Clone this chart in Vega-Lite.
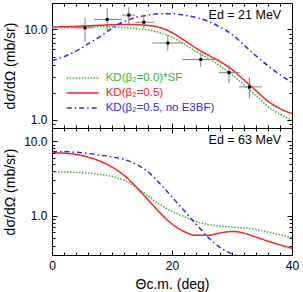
{
  "$schema": "https://vega.github.io/schema/vega-lite/v6.json",
  "padding": {"left": 2, "top": 2, "right": 5, "bottom": 0},
  "bounds": "flush",
  "datasets": {
    "curves": [
      {"E":21,"m":"KD(β₂=0.0)*SF","t":0,"v":10.45},{"E":21,"m":"KD(β₂=0.0)*SF","t":2,"v":10.5},{"E":21,"m":"KD(β₂=0.0)*SF","t":4,"v":10.55},{"E":21,"m":"KD(β₂=0.0)*SF","t":6,"v":10.65},{"E":21,"m":"KD(β₂=0.0)*SF","t":8,"v":10.7},{"E":21,"m":"KD(β₂=0.0)*SF","t":10,"v":10.65},{"E":21,"m":"KD(β₂=0.0)*SF","t":12,"v":10.5},{"E":21,"m":"KD(β₂=0.0)*SF","t":14,"v":10.25},{"E":21,"m":"KD(β₂=0.0)*SF","t":16,"v":9.85},{"E":21,"m":"KD(β₂=0.0)*SF","t":18,"v":9.2},{"E":21,"m":"KD(β₂=0.0)*SF","t":20,"v":8.2},{"E":21,"m":"KD(β₂=0.0)*SF","t":22,"v":6.9},{"E":21,"m":"KD(β₂=0.0)*SF","t":24,"v":5.7},{"E":21,"m":"KD(β₂=0.0)*SF","t":26,"v":4.8},{"E":21,"m":"KD(β₂=0.0)*SF","t":28,"v":3.95},{"E":21,"m":"KD(β₂=0.0)*SF","t":30,"v":3.15},{"E":21,"m":"KD(β₂=0.0)*SF","t":32,"v":2.45},{"E":21,"m":"KD(β₂=0.0)*SF","t":34,"v":1.85},{"E":21,"m":"KD(β₂=0.0)*SF","t":36,"v":1.4},{"E":21,"m":"KD(β₂=0.0)*SF","t":38,"v":1.15},{"E":21,"m":"KD(β₂=0.0)*SF","t":40,"v":0.99},
      {"E":21,"m":"KD(β₂=0.5)","t":0,"v":10.6},{"E":21,"m":"KD(β₂=0.5)","t":2,"v":10.7},{"E":21,"m":"KD(β₂=0.5)","t":4,"v":10.8},{"E":21,"m":"KD(β₂=0.5)","t":6,"v":10.95},{"E":21,"m":"KD(β₂=0.5)","t":8,"v":11.1},{"E":21,"m":"KD(β₂=0.5)","t":10,"v":11.25},{"E":21,"m":"KD(β₂=0.5)","t":12,"v":11.35},{"E":21,"m":"KD(β₂=0.5)","t":14,"v":11.3},{"E":21,"m":"KD(β₂=0.5)","t":16,"v":11.05},{"E":21,"m":"KD(β₂=0.5)","t":18,"v":10.5},{"E":21,"m":"KD(β₂=0.5)","t":20,"v":9.2},{"E":21,"m":"KD(β₂=0.5)","t":22,"v":7.6},{"E":21,"m":"KD(β₂=0.5)","t":24,"v":6.2},{"E":21,"m":"KD(β₂=0.5)","t":26,"v":5.2},{"E":21,"m":"KD(β₂=0.5)","t":28,"v":4.4},{"E":21,"m":"KD(β₂=0.5)","t":30,"v":3.6},{"E":21,"m":"KD(β₂=0.5)","t":32,"v":2.75},{"E":21,"m":"KD(β₂=0.5)","t":34,"v":2.1},{"E":21,"m":"KD(β₂=0.5)","t":36,"v":1.6},{"E":21,"m":"KD(β₂=0.5)","t":38,"v":1.33},{"E":21,"m":"KD(β₂=0.5)","t":40,"v":1.17},
      {"E":21,"m":"KD(β₂=0.5, no E3BF)","t":0,"v":4.5},{"E":21,"m":"KD(β₂=0.5, no E3BF)","t":2,"v":5.0},{"E":21,"m":"KD(β₂=0.5, no E3BF)","t":4,"v":5.75},{"E":21,"m":"KD(β₂=0.5, no E3BF)","t":6,"v":6.9},{"E":21,"m":"KD(β₂=0.5, no E3BF)","t":8,"v":8.3},{"E":21,"m":"KD(β₂=0.5, no E3BF)","t":10,"v":10.3},{"E":21,"m":"KD(β₂=0.5, no E3BF)","t":12,"v":12.2},{"E":21,"m":"KD(β₂=0.5, no E3BF)","t":14,"v":13.6},{"E":21,"m":"KD(β₂=0.5, no E3BF)","t":16,"v":14.4},{"E":21,"m":"KD(β₂=0.5, no E3BF)","t":18,"v":14.9},{"E":21,"m":"KD(β₂=0.5, no E3BF)","t":20,"v":14.9},{"E":21,"m":"KD(β₂=0.5, no E3BF)","t":22,"v":14.4},{"E":21,"m":"KD(β₂=0.5, no E3BF)","t":24,"v":13.6},{"E":21,"m":"KD(β₂=0.5, no E3BF)","t":26,"v":12.3},{"E":21,"m":"KD(β₂=0.5, no E3BF)","t":28,"v":10.6},{"E":21,"m":"KD(β₂=0.5, no E3BF)","t":30,"v":8.8},{"E":21,"m":"KD(β₂=0.5, no E3BF)","t":32,"v":6.7},{"E":21,"m":"KD(β₂=0.5, no E3BF)","t":34,"v":5.1},{"E":21,"m":"KD(β₂=0.5, no E3BF)","t":36,"v":3.95},{"E":21,"m":"KD(β₂=0.5, no E3BF)","t":38,"v":3.15},{"E":21,"m":"KD(β₂=0.5, no E3BF)","t":40,"v":2.58},
      {"E":63,"m":"KD(β₂=0.0)*SF","t":0,"v":3.88},{"E":63,"m":"KD(β₂=0.0)*SF","t":2,"v":3.86},{"E":63,"m":"KD(β₂=0.0)*SF","t":4,"v":3.82},{"E":63,"m":"KD(β₂=0.0)*SF","t":6,"v":3.73},{"E":63,"m":"KD(β₂=0.0)*SF","t":8,"v":3.6},{"E":63,"m":"KD(β₂=0.0)*SF","t":10,"v":3.38},{"E":63,"m":"KD(β₂=0.0)*SF","t":12,"v":3.0},{"E":63,"m":"KD(β₂=0.0)*SF","t":14,"v":2.45},{"E":63,"m":"KD(β₂=0.0)*SF","t":16,"v":1.85},{"E":63,"m":"KD(β₂=0.0)*SF","t":18,"v":1.42},{"E":63,"m":"KD(β₂=0.0)*SF","t":20,"v":1.15},{"E":63,"m":"KD(β₂=0.0)*SF","t":22,"v":0.98},{"E":63,"m":"KD(β₂=0.0)*SF","t":24,"v":0.84},{"E":63,"m":"KD(β₂=0.0)*SF","t":26,"v":0.77},{"E":63,"m":"KD(β₂=0.0)*SF","t":28,"v":0.73},{"E":63,"m":"KD(β₂=0.0)*SF","t":30,"v":0.71},{"E":63,"m":"KD(β₂=0.0)*SF","t":32,"v":0.69},{"E":63,"m":"KD(β₂=0.0)*SF","t":34,"v":0.66},{"E":63,"m":"KD(β₂=0.0)*SF","t":36,"v":0.61},{"E":63,"m":"KD(β₂=0.0)*SF","t":38,"v":0.56},{"E":63,"m":"KD(β₂=0.0)*SF","t":40,"v":0.51},
      {"E":63,"m":"KD(β₂=0.5)","t":0,"v":7.0},{"E":63,"m":"KD(β₂=0.5)","t":2,"v":6.9},{"E":63,"m":"KD(β₂=0.5)","t":4,"v":6.65},{"E":63,"m":"KD(β₂=0.5)","t":6,"v":6.1},{"E":63,"m":"KD(β₂=0.5)","t":8,"v":5.4},{"E":63,"m":"KD(β₂=0.5)","t":10,"v":4.5},{"E":63,"m":"KD(β₂=0.5)","t":12,"v":3.5},{"E":63,"m":"KD(β₂=0.5)","t":14,"v":2.45},{"E":63,"m":"KD(β₂=0.5)","t":16,"v":1.65},{"E":63,"m":"KD(β₂=0.5)","t":18,"v":1.1},{"E":63,"m":"KD(β₂=0.5)","t":20,"v":0.78},{"E":63,"m":"KD(β₂=0.5)","t":22,"v":0.62},{"E":63,"m":"KD(β₂=0.5)","t":24,"v":0.55},{"E":63,"m":"KD(β₂=0.5)","t":26,"v":0.55},{"E":63,"m":"KD(β₂=0.5)","t":28,"v":0.59},{"E":63,"m":"KD(β₂=0.5)","t":30,"v":0.62},{"E":63,"m":"KD(β₂=0.5)","t":32,"v":0.59},{"E":63,"m":"KD(β₂=0.5)","t":34,"v":0.52},{"E":63,"m":"KD(β₂=0.5)","t":36,"v":0.46},{"E":63,"m":"KD(β₂=0.5)","t":38,"v":0.41},{"E":63,"m":"KD(β₂=0.5)","t":40,"v":0.37},
      {"E":63,"m":"KD(β₂=0.5, no E3BF)","t":0,"v":7.3},{"E":63,"m":"KD(β₂=0.5, no E3BF)","t":2,"v":7.25},{"E":63,"m":"KD(β₂=0.5, no E3BF)","t":4,"v":7.1},{"E":63,"m":"KD(β₂=0.5, no E3BF)","t":6,"v":6.85},{"E":63,"m":"KD(β₂=0.5, no E3BF)","t":8,"v":6.5},{"E":63,"m":"KD(β₂=0.5, no E3BF)","t":10,"v":6.15},{"E":63,"m":"KD(β₂=0.5, no E3BF)","t":12,"v":5.7},{"E":63,"m":"KD(β₂=0.5, no E3BF)","t":14,"v":4.9},{"E":63,"m":"KD(β₂=0.5, no E3BF)","t":16,"v":3.9},{"E":63,"m":"KD(β₂=0.5, no E3BF)","t":18,"v":2.7},{"E":63,"m":"KD(β₂=0.5, no E3BF)","t":20,"v":1.8},{"E":63,"m":"KD(β₂=0.5, no E3BF)","t":22,"v":1.18},{"E":63,"m":"KD(β₂=0.5, no E3BF)","t":24,"v":0.78},{"E":63,"m":"KD(β₂=0.5, no E3BF)","t":26,"v":0.52},{"E":63,"m":"KD(β₂=0.5, no E3BF)","t":28,"v":0.38},{"E":63,"m":"KD(β₂=0.5, no E3BF)","t":30,"v":0.31},{"E":63,"m":"KD(β₂=0.5, no E3BF)","t":32,"v":0.27}
    ],
    "points": [
      {"t":5.5,"tlo":3.8,"thi":7.0,"v":10.4,"vlo":7.3,"vhi":13.5},
      {"t":9.2,"tlo":7.0,"thi":11.6,"v":12.9,"vlo":9.5,"vhi":17.3},
      {"t":12.8,"tlo":11.7,"thi":13.9,"v":14.4,"vlo":11.6,"vhi":17.6},
      {"t":15.3,"tlo":13.9,"thi":17.1,"v":12.0,"vlo":10.3,"vhi":14.2},
      {"t":19.3,"tlo":16.7,"thi":21.9,"v":7.07,"vlo":5.8,"vhi":8.75},
      {"t":24.8,"tlo":21.7,"thi":27.8,"v":4.64,"vlo":3.85,"vhi":5.5},
      {"t":29.5,"tlo":27.8,"thi":31.3,"v":3.32,"vlo":2.54,"vhi":4.04},
      {"t":32.9,"tlo":31.2,"thi":35.0,"v":2.31,"vlo":1.73,"vhi":2.97}
    ]
  },
  "spacing": 0,
  "resolve": {"scale": {"x": "independent", "y": "independent", "color": "independent", "strokeDash": "independent"}},
  "vconcat": [
    {
      "width": 240,
      "height": 125,
      "layer": [
        {
          "data": {"name": "curves"},
          "transform": [{"filter": "datum.E == 21"}],
          "mark": {"type": "line", "strokeWidth": 1.5, "interpolate": "monotone", "clip": true},
          "encoding": {
            "x": {"field": "t", "type": "quantitative", "scale": {"domain": [0, 40], "nice": false},
              "axis": {"orient": "bottom", "labels": false, "title": null, "values": [0,2,4,6,8,10,12,14,16,18,20,22,24,26,28,30,32,34,36,38,40],
                "tickSize": {"condition": {"test": "datum.value % 20 == 0", "value": -5}, "value": -3}}},
            "y": {"field": "v", "type": "quantitative", "scale": {"type": "log", "domain": [0.81, 19.6], "nice": false},
              "axis": {"orient": "left", "values": [0.9,1,2,3,4,5,6,7,8,9,10],
                "labelExpr": "datum.value == 1 || datum.value == 10 ? format(datum.value, '.1f') : ''",
                "tickSize": {"condition": {"test": "datum.value == 1 || datum.value == 10", "value": -5}, "value": -3},
                "labelPadding": 10, "title": "dσ/dΩ  (mb/sr)", "titlePadding": 5, "minExtent": 30, "maxExtent": 30}},
            "color": {"field": "m", "type": "nominal",
              "scale": {"domain": ["KD(β₂=0.0)*SF", "KD(β₂=0.5)", "KD(β₂=0.5, no E3BF)"], "range": ["#33b533", "#ff2020", "#2b2bf0"]},
              "legend": {"orient": "none", "legendX": 13.7, "legendY": 69, "title": null, "padding": 0,
                "symbolType": "M-1,0H5.4", "symbolSize": 100, "symbolStrokeWidth": 1.5, "labelFontSize": 11.5, "labelFont": "Liberation Sans",
                "labelOffset": 28, "rowPadding": 3,
                "encode": {"labels": {"update": {"fill": {"signal": "datum.value == 'KD(β₂=0.0)*SF' ? '#33b533' : datum.value == 'KD(β₂=0.5)' ? '#ff2020' : '#2b2bf0'"}}}}}},
            "strokeDash": {"field": "m", "type": "nominal",
              "scale": {"domain": ["KD(β₂=0.0)*SF", "KD(β₂=0.5)", "KD(β₂=0.5, no E3BF)"], "range": [[1.5, 1.5], [1, 0], [5, 3, 1.5, 3]]},
              "legend": {"orient": "none", "legendX": 13.7, "legendY": 69, "title": null, "padding": 0,
                "symbolType": "M-1,0H5.4", "symbolSize": 100, "symbolStrokeWidth": 1.5, "labelFontSize": 11.5, "labelFont": "Liberation Sans",
                "labelOffset": 28, "rowPadding": 3,
                "encode": {"labels": {"update": {"fill": {"signal": "datum.value == 'KD(β₂=0.0)*SF' ? '#33b533' : datum.value == 'KD(β₂=0.5)' ? '#ff2020' : '#2b2bf0'"}}}}}}
          }
        },
        {
          "data": {"name": "points"},
          "mark": {"type": "rule", "color": "#808080", "strokeWidth": 1},
          "encoding": {
            "x": {"field": "tlo", "type": "quantitative", "axis": null},
            "x2": {"field": "thi"},
            "y": {"field": "v", "type": "quantitative", "axis": null}
          }
        },
        {
          "data": {"name": "points"},
          "mark": {"type": "rule", "color": "#808080", "strokeWidth": 1},
          "encoding": {
            "x": {"field": "t", "type": "quantitative", "axis": null},
            "y": {"field": "vlo", "type": "quantitative", "axis": null},
            "y2": {"field": "vhi"}
          }
        },
        {
          "data": {"name": "points"},
          "mark": {"type": "point", "shape": "square", "filled": true, "size": 9, "color": "black", "opacity": 1},
          "encoding": {
            "x": {"field": "t", "type": "quantitative", "axis": null},
            "y": {"field": "v", "type": "quantitative", "axis": null}
          }
        },
        {
          "data": {"values": [{}]},
          "mark": {"type": "text", "align": "right", "baseline": "alphabetic", "fontSize": 12.5, "font": "Liberation Sans", "color": "black"},
          "encoding": {
            "x": {"datum": 38.2, "type": "quantitative",
              "axis": {"orient": "top", "labels": false, "title": null, "values": [0,2,4,6,8,10,12,14,16,18,20,22,24,26,28,30,32,34,36,38,40],
                "tickSize": {"condition": {"test": "datum.value % 20 == 0", "value": -5}, "value": -3}}},
            "y": {"datum": 12.9, "type": "quantitative",
              "axis": {"orient": "right", "labels": false, "title": null, "values": [0.9,1,2,3,4,5,6,7,8,9,10],
                "tickSize": {"condition": {"test": "datum.value == 1 || datum.value == 10", "value": -5}, "value": -3}}},
            "text": {"value": "Ed = 21 MeV"}
          }
        }
      ]
    },
    {
      "width": 240,
      "height": 127,
      "layer": [
        {
          "data": {"name": "curves"},
          "transform": [{"filter": "datum.E == 63"}],
          "mark": {"type": "line", "strokeWidth": 1.5, "interpolate": "monotone", "clip": true},
          "encoding": {
            "x": {"field": "t", "type": "quantitative", "scale": {"domain": [0, 40], "nice": false},
              "axis": {"orient": "bottom", "values": [0,2,4,6,8,10,12,14,16,18,20,22,24,26,28,30,32,34,36,38,40],
                "labelExpr": "datum.value % 20 == 0 ? format(datum.value, 'd') : ''",
                "tickSize": {"condition": {"test": "datum.value % 20 == 0", "value": -5}, "value": -3},
                "labelPadding": 10, "title": "Θc.m.  (deg)", "titlePadding": 4}},
            "y": {"field": "v", "type": "quantitative", "scale": {"type": "log", "domain": [0.3, 15], "nice": false},
              "axis": {"orient": "left", "values": [0.3,0.4,0.5,0.6,0.7,0.8,0.9,1,2,3,4,5,6,7,8,9,10],
                "labelExpr": "datum.value == 1 || datum.value == 10 ? format(datum.value, '.1f') : ''",
                "tickSize": {"condition": {"test": "datum.value == 1 || datum.value == 10", "value": -5}, "value": -3},
                "labelPadding": 10, "title": "dσ/dΩ  (mb/sr)", "titlePadding": 5, "minExtent": 30, "maxExtent": 30}},
            "color": {"field": "m", "type": "nominal",
              "scale": {"domain": ["KD(β₂=0.0)*SF", "KD(β₂=0.5)", "KD(β₂=0.5, no E3BF)"], "range": ["#33b533", "#ff2020", "#2b2bf0"]},
              "legend": null},
            "strokeDash": {"field": "m", "type": "nominal",
              "scale": {"domain": ["KD(β₂=0.0)*SF", "KD(β₂=0.5)", "KD(β₂=0.5, no E3BF)"], "range": [[1.5, 1.5], [1, 0], [5, 3, 1.5, 3]]},
              "legend": null}
          }
        },
        {
          "data": {"values": [{}]},
          "mark": {"type": "text", "align": "right", "baseline": "alphabetic", "fontSize": 12.5, "font": "Liberation Sans", "color": "black"},
          "encoding": {
            "x": {"datum": 38.2, "type": "quantitative",
              "axis": {"orient": "top", "labels": false, "title": null, "values": [0,2,4,6,8,10,12,14,16,18,20,22,24,26,28,30,32,34,36,38,40],
                "tickSize": {"condition": {"test": "datum.value % 20 == 0", "value": -5}, "value": -3}}},
            "y": {"datum": 9.03, "type": "quantitative",
              "axis": {"orient": "right", "labels": false, "title": null, "values": [0.3,0.4,0.5,0.6,0.7,0.8,0.9,1,2,3,4,5,6,7,8,9,10],
                "tickSize": {"condition": {"test": "datum.value == 1 || datum.value == 10", "value": -5}, "value": -3}}},
            "text": {"value": "Ed = 63 MeV"}
          }
        }
      ]
    }
  ],
  "config": {
    "font": "Liberation Sans",
    "view": {"stroke": "black", "strokeWidth": 1},
    "axis": {"grid": false, "domain": false, "tickColor": "black", "tickWidth": 1, "labelColor": "black", "labelFontSize": 12,
      "labelFont": "Liberation Sans", "titleFont": "Liberation Sans", "titleFontSize": 14, "titleFontWeight": "normal", "titleColor": "black",
      "labelFlush": false, "labelOverlap": false}
  }
}
